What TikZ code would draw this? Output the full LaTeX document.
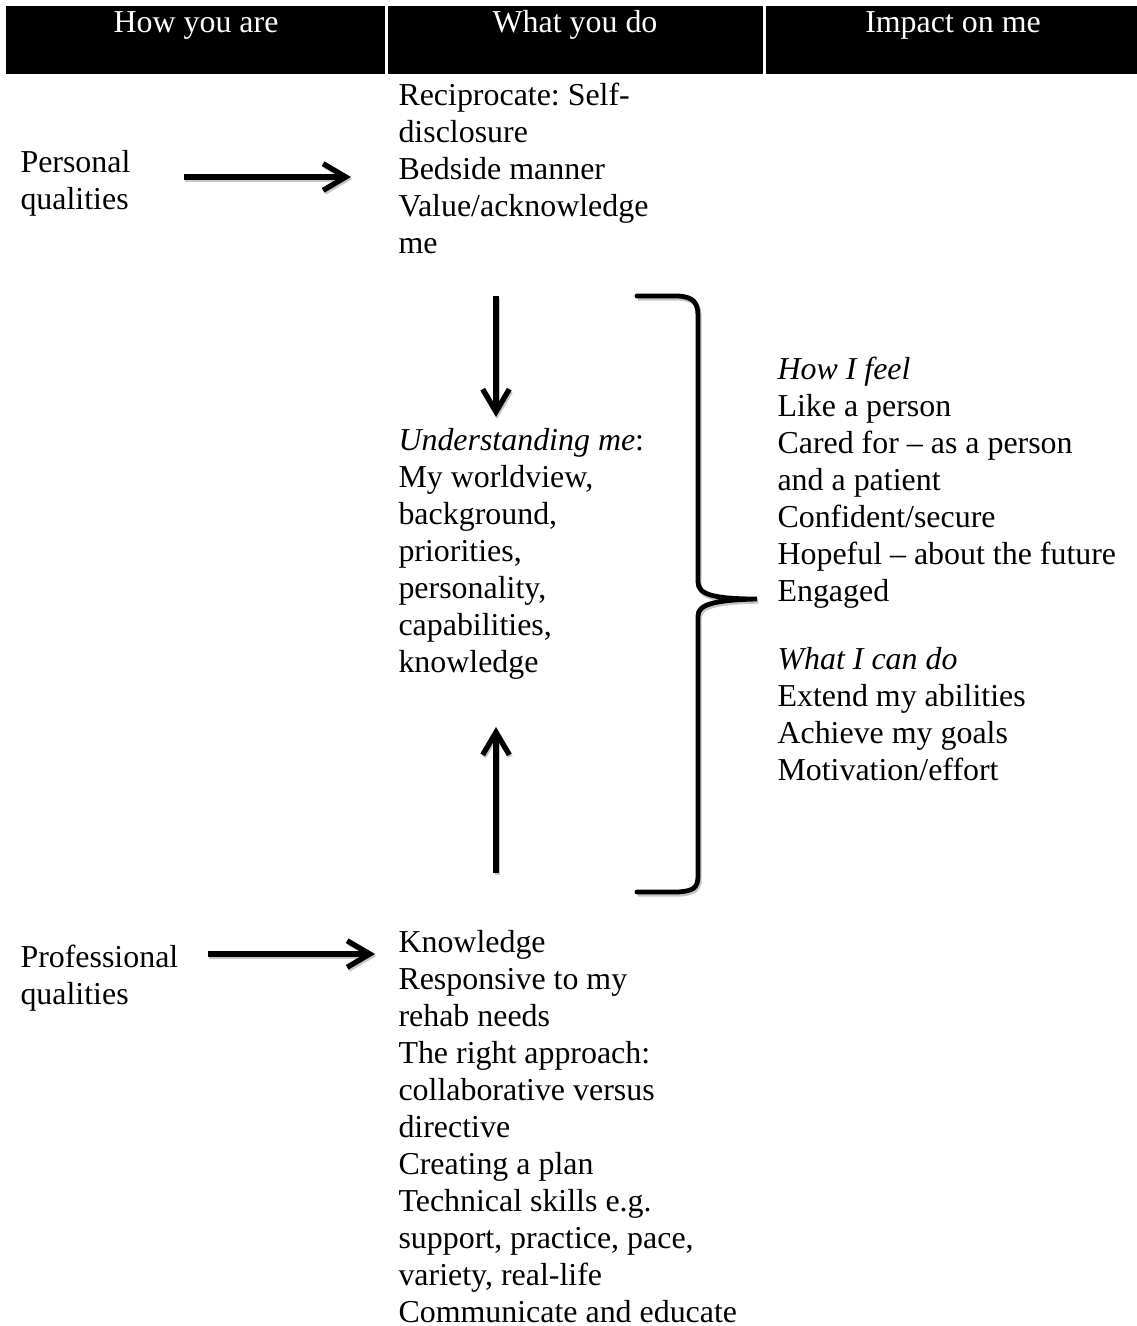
\documentclass[tikz,border=0pt]{standalone}
\usepackage{fontspec}
\setmainfont{Liberation Serif}
\usetikzlibrary{arrows.meta}
\frenchspacing

\tikzset{
  body/.style={anchor=north west, inner sep=0pt, align=left,
    font=\fontsize{12}{13.9}\selectfont},
  headcell/.style={fill=black, draw=none},
  headtext/.style={anchor=base, inner sep=0pt, text=white,
    font=\fontsize{12}{13.9}\selectfont},
  shade/.style={draw=gray!45, line width=1.9pt,
    transform canvas={shift={(0.45pt,-0.8pt)}}},
  tip/.style={-{Straight Barb[length=8.5pt,width=10pt]}},
  flow/.style={draw=black, line width=2pt, tip},
  flowshade/.style={shade, tip},
  bracket/.style={draw=black, line width=1.8pt, line cap=round},
}

\begin{document}
\begin{tikzpicture}[x=0.376pt, y=-0.376pt]
  \useasboundingbox (0,0) rectangle (1137,1326);

  % column headings
  \fill[headcell] (6,6) rectangle (385,74);
  \fill[headcell] (388,6) rectangle (763,74);
  \fill[headcell] (766,6) rectangle (1137,74);
  \node[headtext] (hdrhow)    at (196,33) {How you are};
  \node[headtext] (hdrwhat)   at (575,33) {What you do};
  \node[headtext] (hdrimpact) at (953,33) {Impact on me};

  % left column
  \node[body] (personal) at (20,146) {\strut Personal\\qualities};
  \node[body] (professional) at (20,941) {\strut Professional\\qualities};

  % middle column
  \node[body] (rapport) at (398,79) {\strut Reciprocate: Self-\\disclosure\\Bedside manner\\Value/acknowledge\\me};
  \node[body] (understanding) at (398,424) {\strut\textit{Understanding me}:\\My worldview,\\background,\\priorities,\\personality,\\capabilities,\\knowledge};
  \node[body] (expertise) at (398,926) {\strut Knowledge\\Responsive to my\\rehab needs\\The right approach:\\collaborative versus\\directive\\Creating a plan\\Technical skills e.g.\\support, practice, pace,\\variety, real-life\\Communicate and educate};

  % right column
  \node[body] (feel) at (777,353) {\strut\textit{How I feel}\\Like a person\\Cared for -- as a person\\and a patient\\Confident/secure\\Hopeful -- about the future\\Engaged};
  \node[body] (cando) at (777,643) {\strut\textit{What I can do}\\Extend my abilities\\Achieve my goals\\Motivation/effort};

  % arrow end points
  \coordinate (persA) at (184,177);
  \coordinate (persB) at (351,177);
  \coordinate (downA) at (496,296);
  \coordinate (downB) at (496,417);
  \coordinate (upA)   at (496,873);
  \coordinate (upB)   at (496,727);
  \coordinate (profA) at (208,954);
  \coordinate (profB) at (375,954);

  % soft shadows under the arrows
  \draw[flowshade] (persA) -- (persB);
  \draw[flowshade] (downA) -- (downB);
  \draw[flowshade] (upA) -- (upB);
  \draw[flowshade] (profA) -- (profB);

  % arrows
  \draw[flow] (persA) -- (persB);
  \draw[flow] (downA) -- (downB);
  \draw[flow] (upA) -- (upB);
  \draw[flow] (profA) -- (profB);

  % closing brace gathering the middle column
  \def\bracepath{(637,296) -- (678,296)
    .. controls (693,297) and (698,302) .. (698,316) -- (698,582)
    .. controls (698,594) and (712,599) .. (757,599)
    .. controls (712,600) and (698,605) .. (698,616) -- (698,876)
    .. controls (698,888) and (693,891) .. (678,892) -- (637,892)}
  \draw[shade] \bracepath;
  \draw[bracket] \bracepath;
\end{tikzpicture}
\end{document}
